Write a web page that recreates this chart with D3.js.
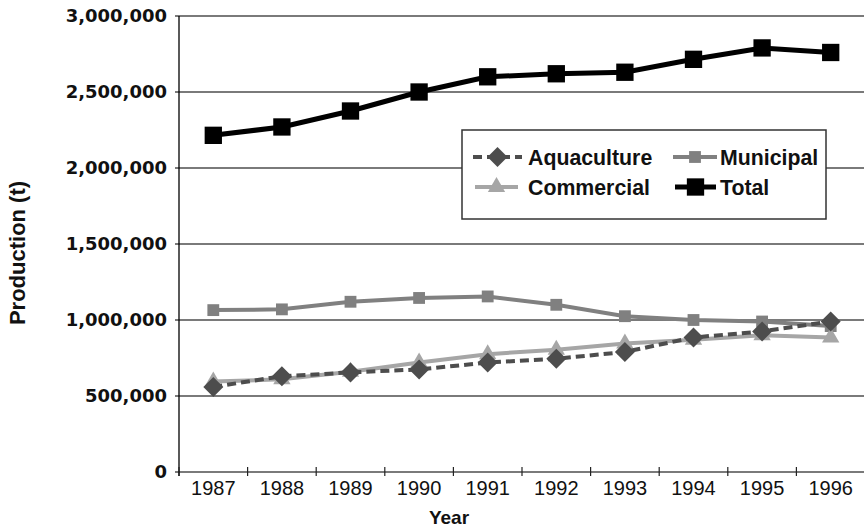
<!DOCTYPE html>
<html><head><meta charset="utf-8">
<script src="https://cdn.jsdelivr.net/npm/d3@7/dist/d3.min.js"></script>
<style>body{margin:0;background:#fff}svg{display:block}</style>
</head><body><svg id="c" width="864" height="531"></svg>
<script>
const years = ["1987","1988","1989","1990","1991","1992","1993","1994","1995","1996"];
const aquaculture = [560000,630000,655000,675000,720000,745000,790000,885000,925000,990000];
const municipal   = [1065000,1070000,1120000,1145000,1155000,1100000,1025000,1000000,990000,960000];
const commercial  = [595000,610000,660000,720000,775000,805000,845000,870000,900000,885000];
const total       = [2215000,2270000,2375000,2500000,2600000,2620000,2630000,2715000,2790000,2760000];
const yTicks = [0,500000,1000000,1500000,2000000,2500000,3000000];
const seriesNames = ["Aquaculture","Municipal","Commercial","Total"];

const svg = d3.select("#c");
const L = 179, R = 865, T = 16, B = 472;
const x = d3.scaleBand().domain(years).range([L, R]).paddingInner(0).paddingOuter(0);
const y = d3.scaleLinear().domain([0, 3000000]).range([B, T]);
const cx = d => x(d) + x.bandwidth() / 2;
const fmt = d3.format(",");

// gridlines
svg.append("g").selectAll("line").data(yTicks).join("line")
  .attr("x1", L - 4).attr("x2", R).attr("y1", d => y(d)).attr("y2", d => y(d))
  .attr("stroke", "#7a7a7a").attr("stroke-width", 2);

// y axis line
svg.append("line").attr("x1", L).attr("x2", L).attr("y1", T).attr("y2", B + 4)
  .attr("stroke", "#000").attr("stroke-width", 1.3);

// y tick labels
svg.append("g").selectAll("text").data(yTicks).join("text")
  .attr("x", L - 12).attr("y", d => y(d)).attr("dy", "0.36em")
  .attr("text-anchor", "end")
  .style("font-family", "'DejaVu Sans', sans-serif").style("font-weight", "bold").style("font-size", "18px")
  .attr("fill", "#111").text(d => fmt(d));

// x ticks (band boundaries)
const bounds = years.map(d => x(d));
svg.append("g").selectAll("line").data(bounds).join("line")
  .attr("x1", d => d).attr("x2", d => d).attr("y1", B - 5).attr("y2", B + 4)
  .attr("stroke", "#222").attr("stroke-width", 1.2);

// x labels
svg.append("g").selectAll("text").data(years).join("text")
  .attr("x", d => cx(d)).attr("y", B + 23).attr("text-anchor", "middle")
  .style("font-family", "'Liberation Sans', Arial, sans-serif").style("font-size", "20px")
  .attr("fill", "#111").text(d => d);

// axis titles
svg.append("text").attr("x", 449).attr("y", 524).attr("text-anchor", "middle")
  .style("font-family", "'Liberation Sans', Arial, sans-serif").style("font-weight", "bold").style("font-size", "19px")
  .attr("fill", "#111").text("Year");
svg.append("text").attr("transform", "translate(25,253) rotate(-90)").attr("text-anchor", "middle")
  .style("font-family", "'Liberation Sans', Arial, sans-serif").style("font-weight", "bold").style("font-size", "22px")
  .attr("fill", "#111").text("Production (t)");

const line = d3.line().x((d, i) => cx(years[i])).y(d => y(d));

const styles = {
  Municipal:   {data: municipal,   color: "#808080", width: 4, dash: null, sym: d3.symbolSquare, size: 140, rot: 0},
  Commercial:  {data: commercial,  color: "#a6a6a6", width: 4, dash: null, sym: d3.symbolTriangle, size: 130, rot: 0},
  Aquaculture: {data: aquaculture, color: "#4d4d4d", width: 4, dash: "9,5", sym: d3.symbolSquare, size: 200, rot: 45},
  Total:       {data: total,       color: "#000000", width: 5, dash: null, sym: d3.symbolSquare, size: 300, rot: 0}
};
const order = ["Municipal","Commercial","Aquaculture","Total"];
order.forEach(name => {
  const s = styles[name];
  const g = svg.append("g");
  g.append("path").datum(s.data).attr("d", line).attr("fill", "none")
    .attr("stroke", s.color).attr("stroke-width", s.width)
    .attr("stroke-dasharray", s.dash);
  g.selectAll("path.m").data(s.data).join("path").attr("class", "m")
    .attr("transform", (d, i) => `translate(${cx(years[i])},${y(d)}) rotate(${s.rot})`)
    .attr("d", d3.symbol().type(s.sym).size(s.size)).attr("fill", s.color);
});

// legend
const lg = svg.append("g");
lg.append("rect").attr("x", 462).attr("y", 130).attr("width", 364).attr("height", 89)
  .attr("fill", "#fff").attr("stroke", "#333").attr("stroke-width", 1.5);
const legendItems = [
  {name: "Aquaculture", lx: 473, ly: 157, w: 49, tx: 528},
  {name: "Municipal", lx: 673, ly: 157, w: 44, tx: 720},
  {name: "Commercial", lx: 475, ly: 187, w: 43, tx: 528},
  {name: "Total", lx: 675, ly: 187, w: 41, tx: 720}
];
legendItems.forEach(it => {
  const s = styles[it.name];
  const g = lg.append("g");
  g.append("line").attr("x1", it.lx).attr("x2", it.lx + it.w).attr("y1", it.ly).attr("y2", it.ly)
    .attr("stroke", s.color).attr("stroke-width", s.width).attr("stroke-dasharray", s.dash);
  g.append("path").attr("transform", `translate(${it.lx + it.w / 2},${it.ly}) rotate(${s.rot})`)
    .attr("d", d3.symbol().type(s.sym).size(s.size)).attr("fill", s.color);
  g.append("text").attr("x", it.tx).attr("y", it.ly).attr("dy", "0.36em")
    .style("font-family", "'Liberation Sans', Arial, sans-serif").style("font-weight", "bold").style("font-size", "21.3px")
    .attr("fill", "#111").text(it.name);
});
</script></body></html>
